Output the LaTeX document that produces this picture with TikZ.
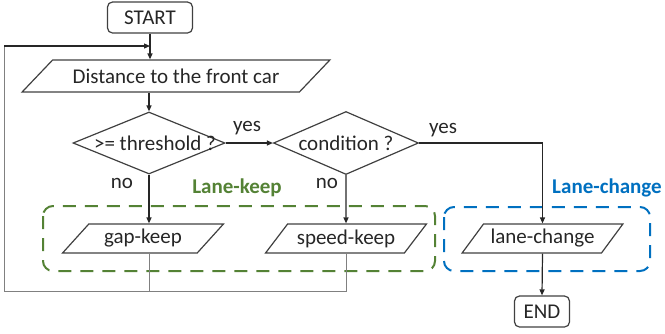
\documentclass[tikz,border=0pt]{standalone}
\usepackage{fontspec}
\setmainfont{Carlito}
\usetikzlibrary{shapes.geometric,arrows.meta}
\definecolor{keepgreen}{RGB}{84,130,53}
\definecolor{changeblue}{RGB}{0,112,192}
\definecolor{linegray}{RGB}{64,64,64}

\begin{document}
\begin{tikzpicture}[x=1pt, y=-1pt, font=\fontsize{21}{25}\selectfont, text=black!85,
    term/.style={draw=linegray, line width=1.2pt, rounded corners=5pt, minimum width=85pt, minimum height=31pt, inner sep=0pt},
    io/.style={draw=linegray, line width=1.2pt, trapezium, trapezium stretches=true, trapezium left angle=44, trapezium right angle=136, minimum width=161pt, minimum height=29pt, inner sep=0pt},
    test/.style={draw=linegray, line width=1.2pt, diamond, inner sep=0pt},
    flow/.style={-{Triangle[length=6pt,width=5pt]}, line width=1.2pt, black!85},
    back/.style={draw=gray, line width=0.8pt},
    group/.style={line width=2pt, dash pattern=on 13pt off 9pt, rounded corners=10pt}]
    \useasboundingbox (0,0) rectangle (665,333);
    % boxes
    \node[term] (start) at (150,17.5) {START};
    \node[io, trapezium left angle=30, trapezium right angle=150, minimum width=308pt, minimum height=32pt] (dist) at (176,76) {Distance to the front car};
    \node[test, minimum width=152pt, minimum height=62pt] (thr) at (149,143) {\makebox[0pt]{\hspace*{12pt}>= threshold ?}};
    \node[test, minimum width=145pt, minimum height=63pt] (cond) at (346,143) {\makebox[0pt]{condition ?}};
    \node[io] (gap) at (143,238.5) {gap-keep};
    \node[io] (speed) at (346,238.5) {speed-keep};
    \node[io] (lane) at (542.5,238.5) {lane-change};
    \node[term, minimum width=55pt] (stop) at (542,311.5) {END};
    % labels
    \node (yes1) at (247,128) {yes};
    \node (yes2) at (443,130) {yes};
    \node (no1) at (122,183) {no};
    \node (no2) at (327,183) {no};
    \node[text=keepgreen, font=\fontsize{21}{25}\selectfont\bfseries] (keep) at (237,188) {Lane-keep};
    \node[text=changeblue, font=\fontsize{21}{25}\selectfont\bfseries] (change) at (607,188) {Lane-change};
    % groups
    \draw [group, keepgreen] (43,206) rectangle (435,271);
    \draw [group, changeblue] (444,207) rectangle (650,271);
    % arrows
    \coordinate (loopin) at (150,46);
    \coordinate (lb) at (4,291);
    \coordinate (lt) at (4,46);
    \draw [flow] (start.south) -- (start.south |- dist.north);
    \draw [flow] (thr.north |- dist.south) -- (thr.north);
    \draw [flow] (thr.east) -- (cond.west);
    \draw [flow] (cond.east) -| (lane.north);
    \draw [flow] (thr.south) -- (thr.south |- gap.north);
    \draw [flow] (cond.south) -- (speed.north);
    \draw [flow] (lane.south) -- (stop.north);
    \draw [back] (cond.south |- speed.south) |- (lb) -- (lt);
    \draw [back] (thr.south |- gap.south) -- (thr.south |- lb);
    \draw [flow] (lt) -- (loopin);
\end{tikzpicture}
\end{document}
